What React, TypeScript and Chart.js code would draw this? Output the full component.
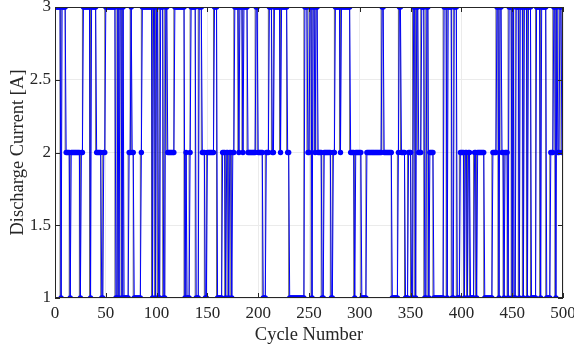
import React, { useEffect, useRef } from "react";
import { Chart, registerables } from "chart.js";

Chart.register(...registerables);

// Discharge current per cycle (cycles 1..500) in ten blocks
const currentBlock1 = [
  3, 3, 3, 3, 3, 1, 3, 3, 3, 3, 2, 2, 2, 2, 1, 2, 2, 2, 2, 2, 2, 2, 2, 2, 1, 2, 2,
  3, 3, 3, 3, 3, 3, 3, 1, 3, 3, 3, 3, 3, 2, 2, 2, 2, 2, 1, 1,
];
const currentBlock2 = [
  2, 2, 3, 3, 3, 3, 3, 3, 3, 3, 3, 3, 1, 1, 3, 1, 3, 3, 1, 3, 1, 1, 1, 1, 1, 2, 2,
  3, 2, 2, 1, 1, 1, 1, 1, 1, 1, 2, 3, 3, 3, 3, 3, 3, 3, 3, 3, 3, 1,
];
const currentBlock3 = [
  3, 3, 1, 3, 3, 1, 1, 3, 3, 3, 1, 1, 3, 3, 2, 2, 2, 2, 2, 2, 2, 3, 3, 3, 3, 3, 3,
  3, 3, 3, 3, 1, 2, 1, 1, 1, 2, 3, 3, 3, 3, 3, 1, 1, 1, 3, 3, 3, 2, 2, 2, 1, 1,
];
const currentBlock4 = [
  2, 2, 2, 2, 2, 2, 2, 3, 3, 3, 1, 1, 1, 1, 1, 2, 2, 2, 1, 2, 2, 1, 2, 2, 1, 2, 2,
  3, 3, 3, 3, 2, 3, 3, 3, 2, 3, 3, 3, 3, 2, 2, 2, 2, 2, 2, 2, 2,
];
const currentBlock5 = [
  3, 3, 2, 2, 2, 2, 2, 1, 1, 1, 2, 2, 2, 3, 3, 3, 2, 2, 3, 3, 3, 3, 3, 3, 2, 3, 3,
  3, 3, 3, 3, 2, 2, 1, 1, 1, 1, 1, 1, 1, 1, 1, 1, 1, 1, 1, 1, 1, 3, 3, 3, 2, 2,
];
const currentBlock6 = [
  3, 3, 1, 3, 3, 2, 3, 3, 2, 2, 2, 2, 1, 1, 2, 2, 2, 2, 2, 2, 2, 1, 1, 2, 2, 3, 3,
  3, 3, 3, 2, 3, 3, 3, 3, 3, 3, 3, 3, 3, 2, 2, 2, 2, 1, 2, 2, 2, 2, 2, 2, 1,
];
const currentBlock7 = [
  1, 1, 1, 1, 2, 2, 2, 2, 2, 2, 2, 2, 2, 2, 2, 2, 2, 2, 2, 3, 3, 2, 2, 2, 2, 2, 2,
  2, 2, 1, 1, 1, 1, 1, 1, 2, 3, 3, 2, 2, 2, 2, 1, 1, 1, 2, 2, 2, 1, 1,
];
const currentBlock8 = [
  3, 3, 1, 3, 3, 2, 2, 2, 3, 3, 3, 1, 1, 3, 3, 1, 2, 2, 2, 2, 1, 1, 1, 1, 1, 1, 1,
  1, 1, 1, 3, 3, 3, 1, 3, 3, 3, 3, 1, 1, 3, 3, 3, 1, 1, 1, 2, 2, 2, 2, 1,
];
const currentBlock9 = [
  2, 2, 1, 2, 2, 1, 1, 1, 1, 2, 2, 1, 2, 2, 2, 2, 2, 2, 2, 1, 1, 1, 1, 1, 1, 1, 1,
  2, 2, 2, 2, 3, 3, 1, 3, 3, 2, 2, 1, 2, 2, 2, 1, 3, 3, 3, 1, 3, 1, 1,
];
const currentBlock10 = [
  3, 3, 3, 1, 3, 3, 3, 1, 3, 3, 3, 1, 3, 3, 3, 1, 1, 1, 1, 1, 3, 3, 3, 3, 1, 3, 3,
  3, 3, 3, 1, 1, 1, 1, 2, 2, 2, 3, 3, 1, 3, 2, 2, 3, 3, 2, 2,
];

const dischargeCurrent = [
  ...currentBlock1,
  ...currentBlock2,
  ...currentBlock3,
  ...currentBlock4,
  ...currentBlock5,
  ...currentBlock6,
  ...currentBlock7,
  ...currentBlock8,
  ...currentBlock9,
  ...currentBlock10,
];
const cycleNumbers = dischargeCurrent.map((_, i) => i + 1);

const xTicks = [0, 50, 100, 150, 200, 250, 300, 350, 400, 450, 500];
const yTicks = [1, 1.5, 2, 2.5, 3];
const xTitle = "Cycle Number";
const yTitle = "Discharge Current [A]";

const FONT = "'Liberation Serif', 'Times New Roman', serif";

const boxPlugin = {
  id: "matlabBox",
  afterDraw(chart: any) {
    const { ctx, chartArea, scales } = chart;
    const { left, right, top, bottom } = chartArea;
    ctx.save();
    ctx.strokeStyle = "#262626";
    ctx.lineWidth = 1;
    ctx.strokeRect(left + 0.5, top + 0.5, right - left - 1, bottom - top - 1);
    const tl = 5;
    ctx.beginPath();
    xTicks.forEach((v) => {
      const px = Math.round(scales.x.getPixelForValue(v)) + 0.5;
      ctx.moveTo(px, bottom);
      ctx.lineTo(px, bottom - tl);
      ctx.moveTo(px, top);
      ctx.lineTo(px, top + tl);
    });
    yTicks.forEach((v) => {
      const py = Math.round(scales.y.getPixelForValue(v)) + 0.5;
      ctx.moveTo(left, py);
      ctx.lineTo(left + tl, py);
      ctx.moveTo(right, py);
      ctx.lineTo(right - tl, py);
    });
    ctx.stroke();
    ctx.restore();
  },
};

export default function App() {
  const ref = useRef<HTMLCanvasElement | null>(null);

  useEffect(() => {
    document.body.style.margin = "0";
    const canvas = ref.current;
    if (!canvas) return;
    const points = cycleNumbers.map((c, i) => ({ x: c, y: dischargeCurrent[i] }));
    const chart = new Chart(canvas, {
      type: "line",
      data: {
        datasets: [
          {
            data: points,
            borderColor: "#0000ff",
            backgroundColor: "#0000ff",
            borderWidth: 1,
            pointRadius: 2.7,
            pointBorderWidth: 0,
            pointBackgroundColor: "#0000ff",
            tension: 0,
            order: 1,
          },
          {
            data: points,
            borderColor: "#000000",
            borderWidth: 0.6,
            pointRadius: 0,
            stepped: "after",
            order: 2,
          },
        ],
      },
      options: {
        animation: false,
        responsive: false,
        layout: { padding: { left: 0, right: 0, top: 0, bottom: 0 } },
        plugins: {
          legend: { display: false },
          tooltip: { enabled: false },
        },
        scales: {
          x: {
            type: "linear",
            min: 0,
            max: 500,
            afterBuildTicks: (s: any) => {
              s.ticks = xTicks.map((v) => ({ value: v }));
            },
            afterFit: (s: any) => {
              s.height = 51;
              s.paddingRight = 11;
            },
            grid: { color: "#ebebeb", drawTicks: false },
            border: { display: false },
            ticks: {
              color: "#262626",
              font: { family: FONT, size: 17 },
              padding: 5,
              maxRotation: 0,
            },
            title: {
              display: true,
              text: xTitle,
              color: "#262626",
              font: { family: FONT, size: 18.5 },
              padding: { top: 0, bottom: 3 },
            },
          },
          y: {
            type: "linear",
            min: 1,
            max: 3,
            afterBuildTicks: (s: any) => {
              s.ticks = yTicks.map((v) => ({ value: v }));
            },
            afterFit: (s: any) => {
              s.width = 55;
              s.paddingTop = 7;
            },
            grid: { color: "#ebebeb", drawTicks: false },
            border: { display: false },
            ticks: {
              color: "#262626",
              font: { family: FONT, size: 17 },
              padding: 4,
              callback: (v: any) => String(v),
            },
            title: {
              display: true,
              text: yTitle,
              color: "#262626",
              font: { family: FONT, size: 18.5 },
              padding: { top: 7, bottom: 0 },
            },
          },
        },
      },
      plugins: [boxPlugin],
    });
    return () => chart.destroy();
  }, []);

  return (
    <div style={{ width: 574, height: 349, background: "#fff" }}>
      <canvas ref={ref} width={574} height={349} style={{ display: "block" }} />
    </div>
  );
}
